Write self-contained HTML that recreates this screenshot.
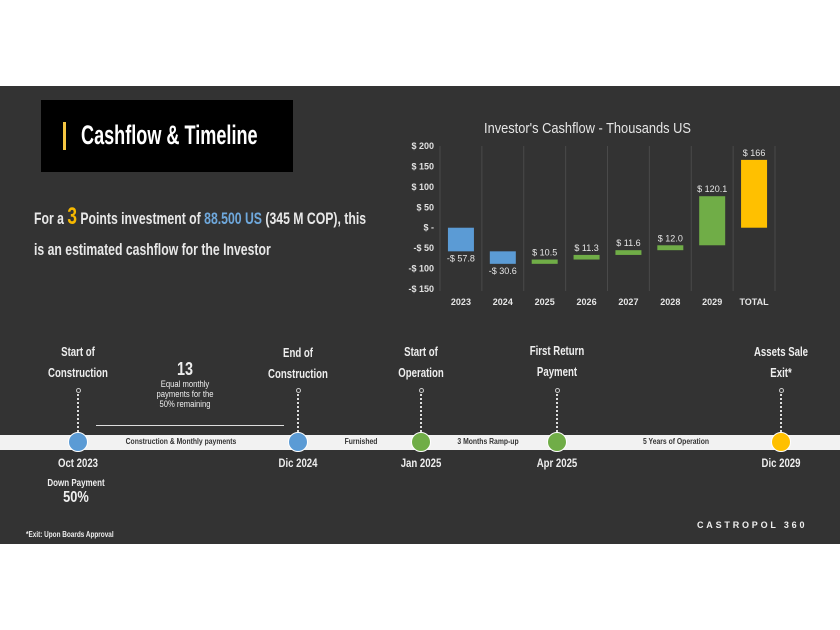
<!DOCTYPE html>
<html><head><meta charset="utf-8">
<style>
body{margin:0;width:840px;height:630px;background:#fff;position:relative;overflow:hidden;font-family:"Liberation Sans",sans-serif;}
#slide{position:absolute;left:0;top:86px;width:840px;height:458px;background:#333333;}
.t{position:absolute;color:#eee;white-space:nowrap;font-weight:bold;}
</style></head><body>
<div id="slide">
 <div style="position:absolute;left:41px;top:14px;width:252px;height:72px;background:#000;">
  <div style="position:absolute;left:22px;top:22px;width:3px;height:28px;background:#f4c542;"></div>
  <div class="t" style="left:40px;top:20px;font-size:27px;color:#fff;transform:scaleX(0.67);transform-origin:left;">Cashflow &amp; Timeline</div>
 </div>
 <div class="t" style="left:34px;top:115px;font-size:17px;line-height:31px;color:#e8e8e8;transform:scaleX(0.72);transform-origin:left;">For a <span style="color:#f6b800;font-size:24px">3</span> Points investment of <span style="color:#6fa8dc">88.500 US</span> (345 M COP), this<br>is an estimated cashflow for the Investor</div>
 <div class="t" style="left:26px;top:444px;font-size:8px;transform:scaleX(0.8);transform-origin:left;">*Exit: Upon Boards Approval</div>
 <div class="t" style="left:697px;top:434px;font-size:9px;letter-spacing:2.8px;">CASTROPOL 360</div>
</div>

<svg id="chart" width="840" height="630" style="position:absolute;left:0;top:0" font-family="Liberation Sans, sans-serif"></svg>

<div id="timeline" style="position:absolute;left:0;top:0;width:840px;height:630px"></div>

<script>
const categories=["2023","2024","2025","2026","2027","2028","2029","TOTAL"];
const values=[-57.8,-30.6,10.5,11.3,11.6,12.0,120.1,166];
const labels=["-$ 57.8","-$ 30.6","$ 10.5","$ 11.3","$ 11.6","$ 12.0","$ 120.1","$ 166"];
const colors=["#5b9bd5","#5b9bd5","#70ad47","#70ad47","#70ad47","#70ad47","#70ad47","#ffc000"];
const ticks=[200,150,100,50,0,-50,-100,-150];
const tickLabels=["$ 200","$ 150","$ 100","$ 50","$ -","-$ 50","-$ 100","-$ 150"];
const NS="http://www.w3.org/2000/svg";
const svg=document.getElementById('chart');
const x0=440,x1=775,yTop=146,yBot=289;
const y=v=>yTop+(200-v)*(yBot-yTop)/350;
const bw=(x1-x0)/categories.length;
const xc=i=>x0+bw*(i+0.5);
function mk(tag,attrs){const e=document.createElementNS(NS,tag);for(const k in attrs)e.setAttribute(k,attrs[k]);svg.appendChild(e);return e;}
let t=mk('text',{x:484,y:133,fill:'#e6e6e6','font-size':15,textLength:207,lengthAdjust:'spacingAndGlyphs'});
t.textContent="Investor's Cashflow - Thousands US";


for(let i=0;i<=categories.length;i++){
 const g=mk('line',{x1:x0+bw*i,x2:x0+bw*i,y1:yTop,y2:yBot+2,stroke:'#4a4a4a','stroke-width':1});
 
 
}
ticks.forEach((v,i)=>{
 const e=mk('text',{x:434,y:y(v)+3,fill:'#e0e0e0','font-size':9,'text-anchor':'end','font-weight':'bold'});
 e.textContent=tickLabels[i];
 
 
});
let cum=0;
values.forEach((v,i)=>{
 let a,b;
 if(i===values.length-1){a=0;b=v;}else{a=cum;b=cum+v;cum=b;}
 const top=y(Math.max(a,b)),bot=y(Math.min(a,b));
 const r=mk('rect',{x:xc(i)-13,y:top,width:26,height:Math.max(bot-top,3),fill:colors[i]});
 
 
 const ly=v<0?bot+10:top-4;
 const l=mk('text',{x:xc(i),y:ly,fill:'#e6e6e6','font-size':9,'text-anchor':'middle'});
 l.textContent=labels[i];
 
 
 const c=mk('text',{x:xc(i),y:305,fill:'#e6e6e6','font-size':9,'text-anchor':'middle','font-weight':'bold'});
 c.textContent=categories[i];
 
 
});

const tl=document.getElementById('timeline');
function div(name,style,html){const d=document.createElement('div');d.style.cssText=style;if(html!==undefined)d.innerHTML=html;
 
 
 tl.appendChild(d);return d;}
div('timeline-bar','position:absolute;left:0;top:435px;width:840px;height:15px;background:#f2f2f2;');
const ms=[[78,'#5b9bd5','Start of<br>Construction','Oct 2023',342],[298,'#5b9bd5','End of<br>Construction','Dic 2024',343],[421,'#70ad47','Start of<br>Operation','Jan 2025',342],[557,'#70ad47','First Return<br>Payment','Apr 2025',341],[781,'#ffc000','Assets Sale<br>Exit*','Dic 2029',342]];
ms.forEach(m=>{
 div('milestone-label','position:absolute;left:'+m[0]+'px;top:'+m[4]+'px;transform:translateX(-50%) scaleX(0.77);text-align:center;color:#eee;font-weight:bold;font-size:12.5px;line-height:21px;white-space:nowrap;',m[2]);
 div('connector-dot','position:absolute;left:'+(m[0]-2.5)+'px;top:388px;width:3px;height:3px;border:1px solid #ccc;border-radius:50%;');
 div('connector-line','position:absolute;left:'+(m[0]-1)+'px;top:394px;height:38px;border-left:2px dotted #ddd;');
 div('milestone-marker','position:absolute;left:'+(m[0]-10)+'px;top:432px;width:18px;height:18px;border-radius:50%;background:'+m[1]+';border:1.5px solid #fff;');
 div('milestone-date','position:absolute;left:'+m[0]+'px;top:456px;transform:translateX(-50%) scaleX(0.8);color:#eee;font-weight:bold;font-size:12px;white-space:nowrap;',m[3]);
});
const segs=[[181,'Construction &amp; Monthly payments'],[361,'Furnished'],[488,'3 Months Ramp-up'],[676,'5 Years of Operation']];
segs.forEach(s=>div('segment-label','position:absolute;left:'+s[0]+'px;top:437px;transform:translateX(-50%) scaleX(0.85);color:#333;font-weight:bold;font-size:8px;white-space:nowrap;',s[1]));
div('payments-count','position:absolute;left:185px;top:359px;transform:translateX(-50%) scaleX(0.8);color:#eee;font-weight:bold;font-size:18px;','13');
div('payments-desc','position:absolute;left:185px;top:379px;transform:translateX(-50%) scaleX(0.85);text-align:center;color:#eee;font-size:9px;line-height:10px;white-space:nowrap;','Equal monthly<br>payments for the<br>50% remaining');
div('payments-arrow','position:absolute;left:96px;top:425px;width:188px;border-top:1px solid #ddd;');
div('down-payment','position:absolute;left:76px;top:477px;transform:translateX(-50%) scaleX(0.8);text-align:center;color:#eee;font-weight:bold;font-size:10px;white-space:nowrap;line-height:14px;','Down Payment<br><span style="font-size:16px">50%</span>');
</script>
</body></html>
